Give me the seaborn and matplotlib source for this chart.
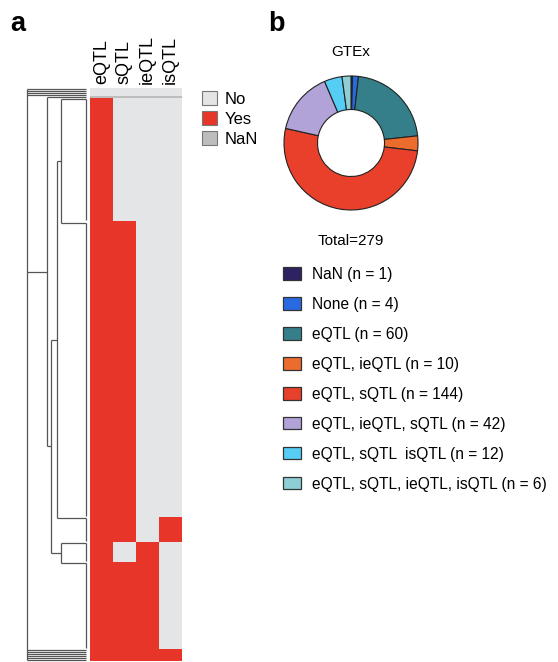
import numpy as np
import pandas as pd
import matplotlib
matplotlib.use("Agg")
import matplotlib.pyplot as plt
from matplotlib.colors import ListedColormap
from matplotlib.patches import Patch
import seaborn as sns

plt.rcParams['font.family'] = ['Liberation Sans', 'DejaVu Sans']

# heatmap columns
qtl_types = ["eQTL", "sQTL", "ieQTL", "isQTL"]

# row groups (top to bottom) and their membership, 1 = Yes, 0 = No, nan = NaN
group_names = ["None", "NaN", "eQTL", "eQTL, sQTL", "eQTL, sQTL  isQTL",
               "eQTL, ieQTL", "eQTL, ieQTL, sQTL", "eQTL, sQTL, ieQTL, isQTL"]
group_counts = [4, 1, 60, 144, 12, 10, 42, 6]
group_eqtl = [0, np.nan, 1, 1, 1, 1, 1, 1]
group_sqtl = [0, np.nan, 0, 1, 1, 0, 1, 1]
group_ieqtl = [0, np.nan, 0, 0, 0, 1, 1, 1]
group_isqtl = [0, np.nan, 0, 0, 1, 0, 0, 1]

# group level linkage (name, child, child, height); identical rows join at 0
merges = [
    ("A", "eQTL", "eQTL, sQTL", 0.42),
    ("B", "A", "eQTL, sQTL  isQTL", 0.50),
    ("C", "eQTL, ieQTL", "eQTL, ieQTL, sQTL", 0.42),
    ("D", "B", "C", 0.59),
    ("E", "NaN", "D", 0.655),
]
root_height = 1.0
root_single_rows = ["None", "eQTL, sQTL, ieQTL, isQTL"]

# donut
pie_labels = ["NaN", "None", "eQTL", "eQTL, ieQTL", "eQTL, sQTL",
              "eQTL, ieQTL, sQTL", "eQTL, sQTL  isQTL", "eQTL, sQTL, ieQTL, isQTL"]
pie_counts = [1, 4, 60, 10, 144, 42, 12, 6]
pie_colors = ["#2e2262", "#2a6ae0", "#357f8a", "#ec6c2e", "#e8402a",
              "#b1a2d8", "#56cdf5", "#8ecfd6"]

hm_colors = ["#e4e5e7", "#e8352a", "#bdbdbd"]  # No, Yes, NaN
hm_labels = ["No", "Yes", "NaN"]

# build the row matrix
rows = []
for i, n in enumerate(group_counts):
    vals = [group_eqtl[i], group_sqtl[i], group_ieqtl[i], group_isqtl[i]]
    rows += [vals] * n
df = pd.DataFrame(rows, columns=qtl_types)
n_rows = len(df)
codes = df.fillna(2)

W, H = 558, 662
fig = plt.figure(figsize=(W / 100, H / 100), dpi=100)

# heatmap
ax_hm = fig.add_axes([90 / W, 1 / H, 92 / W, 573 / H])
sns.heatmap(codes, ax=ax_hm, cmap=ListedColormap(hm_colors), vmin=-0.5, vmax=2.5,
            cbar=False, xticklabels=qtl_types, yticklabels=False)
ax_hm.xaxis.tick_top()
ax_hm.tick_params(length=0, pad=3)
plt.setp(ax_hm.get_xticklabels(), rotation=90, fontsize=13)

# dendrogram
ax_d = fig.add_axes([27 / W, 1 / H, 59 / W, 573 / H])
ax_d.set_ylim(n_rows, 0)
ax_d.set_xlim(root_height, 0)
ax_d.axis("off")
line_kw = dict(color="#555555", lw=0.9, clip_on=False, solid_capstyle="butt")

starts = np.concatenate([[0], np.cumsum(group_counts)[:-1]])
pos, hgt = {}, {}
for g, s, n in zip(group_names, starts, group_counts):
    pos[g] = s + 0.5
    hgt[g] = 0.0
    if n > 1 and g not in root_single_rows:
        ax_d.plot([0, 0], [s + 0.5, s + n - 0.5], **line_kw)

for name, a, b, h in merges:
    ax_d.plot([h, h], [pos[a], pos[b]], **line_kw)
    ax_d.plot([h, hgt[a]], [pos[a], pos[a]], **line_kw)
    ax_d.plot([h, hgt[b]], [pos[b], pos[b]], **line_kw)
    pos[name] = (pos[a] + pos[b]) / 2
    hgt[name] = h

root_children = []
for g in root_single_rows:
    i = group_names.index(g)
    root_children += [(s + 0.5, 0.0) for s in range(starts[i], starts[i] + group_counts[i])]
root_children.append((pos[merges[-1][0]], hgt[merges[-1][0]]))
ys = [c[0] for c in root_children]
ax_d.plot([root_height, root_height], [min(ys), max(ys)], **line_kw)
for y, h in root_children:
    ax_d.plot([root_height, h], [y, y], **line_kw)

# heatmap legend
hm_handles = [Patch(facecolor=c, edgecolor="#777777", lw=0.8) for c in hm_colors]
fig.legend(hm_handles, hm_labels, loc="upper left", bbox_to_anchor=(202 / W, 1 - 91 / H),
           frameon=False, fontsize=12, handlelength=0.9, handleheight=0.95,
           handletextpad=0.45, labelspacing=0.24, borderpad=0, borderaxespad=0)

# donut
ax_p = fig.add_axes([284 / W, (H - 210) / H, 134 / W, 134 / H])
ax_p.pie(pie_counts, colors=pie_colors, startangle=90, counterclock=False,
         wedgeprops=dict(width=0.5, edgecolor="#222222", linewidth=0.8))
ax_p.set_xlim(-1.0, 1.0)
ax_p.set_ylim(-1.0, 1.0)
ax_p.set_aspect("equal")

pie_handles = [Patch(facecolor=c, edgecolor="#333333", lw=0.9) for c in pie_colors]
fig.legend(pie_handles, [f"{l} (n = {n})" for l, n in zip(pie_labels, pie_counts)],
           loc="upper left", bbox_to_anchor=(283 / W, 1 - 267 / H), frameon=False,
           fontsize=11.2, handlelength=1.17, handleheight=0.85, handletextpad=0.68,
           labelspacing=0.96, borderpad=0, borderaxespad=0)

fig.text(351 / W, 1 - 55.5 / H, "GTEx", ha="center", va="baseline", fontsize=11)
fig.text(351 / W, 1 - 245 / H, "Total=279", ha="center", va="baseline", fontsize=11)
fig.text(10 / W, 1 - 30.7 / H, "a", fontsize=19.5, fontweight="bold", va="baseline")
fig.text(268 / W, 1 - 30.7 / H, "b", fontsize=19.5, fontweight="bold", va="baseline")

fig.savefig("out.png", dpi=100)
